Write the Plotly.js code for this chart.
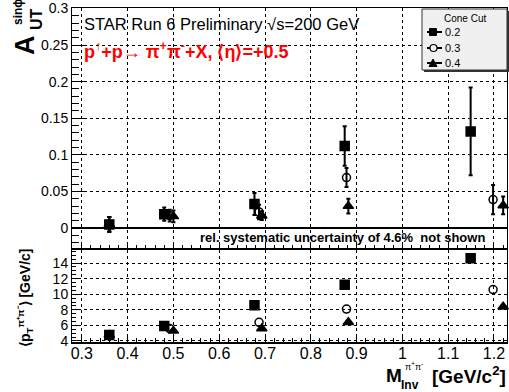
<!DOCTYPE html>
<html><head><meta charset="utf-8">
<script src="https://cdn.plot.ly/plotly-3.0.1.min.js"></script>
<style>html,body{margin:0;padding:0;background:#fff;}#chart{width:509px;height:392px;}</style>
</head><body><div id="chart"></div>
<script>
// ---- data ----
var cones = ["0.2", "0.3", "0.4"];
var mass02 = [0.36, 0.48, 0.677, 0.874, 1.149];
var asym02 = [0.005, 0.019, 0.033, 0.112, 0.132];
var err02  = [0.010, 0.009, 0.015, 0.027, 0.060];
var pt02   = [4.77, 5.92, 8.6, 11.2, 14.6];

var mass03 = [0.36, 0.492, 0.687, 0.878, 1.198];
var asym03 = [0.005, 0.017, 0.022, 0.069, 0.039];
var err03  = [0.010, 0.008, 0.010, 0.013, 0.020];
var pt03   = [4.77, 5.6, 6.4, 8.1, 10.6];

var mass04 = [0.36, 0.500, 0.693, 0.882, 1.220];
var asym04 = [0.005, 0.016, 0.017, 0.030, 0.031];
var err04  = [0.010, 0.008, 0.006, 0.010, 0.012];
var pt04   = [4.77, 5.3, 5.6, 6.4, 8.4];

var xTickVals = [0.3,0.4,0.5,0.6,0.7,0.8,0.9,1,1.1,1.2];
var xTickText = ["0.3","0.4","0.5","0.6","0.7","0.8","0.9","1","1.1","1.2"];

// ---- geometry ----
var W = 509, H = 392, L = 72, R = 507, T = 8, B = 342;
function px(x, y) { return {x: (x - L) / (R - L), y: (B - y) / (B - T)}; }
var FONT = "Liberation Sans, Arial, sans-serif";

var series = [
  {name: cones[0], m: mass02, a: asym02, e: err02, p: pt02, sym: "square", fill: "black", size: 9},
  {name: cones[1], m: mass03, a: asym03, e: err03, p: pt03, sym: "circle-open", fill: "black", size: 8},
  {name: cones[2], m: mass04, a: asym04, e: err04, p: pt04, sym: "triangle-up", fill: "black", size: 9}
];

var traces = [];
series.forEach(function (s) {
  traces.push({
    x: s.m, y: s.a, xaxis: "x2", yaxis: "y2", type: "scatter", mode: "markers",
    name: s.name, showlegend: false, cliponaxis: false,
    marker: {symbol: s.sym, size: s.size, color: s.fill, line: {color: "black", width: 1.5}},
    error_y: {type: "data", array: s.e, visible: true, color: "black", thickness: 2, width: 2}
  });
  traces.push({
    x: s.m, y: s.p, xaxis: "x", yaxis: "y", type: "scatter", mode: "markers",
    name: s.name, showlegend: false, cliponaxis: false,
    marker: {symbol: s.sym, size: s.size, color: s.fill, line: {color: "black", width: 1.5}}
  });
});

var gridStyle = {showgrid: true, gridcolor: "black", gridwidth: 1, griddash: "dot"};

var ann = [];
function addAnn(text, xp, yp, opts) {
  var p = px(xp, yp);
  var a = {text: text, x: p.x, y: p.y, xref: "paper", yref: "paper", showarrow: false,
           xanchor: "center", yanchor: "middle", font: {family: FONT, size: 14, color: "black"}};
  for (var k in opts) a[k] = opts[k];
  ann.push(a);
}
addAnn("STAR Run 6 Preliminary √s=200 GeV", 82, 24, {xanchor: "left", font: {family: FONT, size: 16.5, color: "black"}});
addAnn("<b>p<sup>↑</sup>+p→ π<sup>+</sup>π<sup>-</sup>+X, ⟨η⟩=+0.5</b>", 82, 50, {xanchor: "left", font: {family: FONT, size: 18, color: "#ff0000"}});
addAnn("<b>rel. systematic uncertainty of 4.6%  not shown</b>", 487, 237, {xanchor: "right", font: {family: FONT, size: 13, color: "black"}});
// y title top (A_UT^sinphi)
addAnn("<b>A</b>", 25, 45, {textangle: -90, font: {family: FONT, size: 27, color: "black"}});
addAnn("<b>UT</b>", 37, 19, {textangle: -90, font: {family: FONT, size: 16, color: "black"}});
addAnn("<b>sinϕ</b>", 18, 12, {textangle: -90, font: {family: FONT, size: 12, color: "black"}});
// y title bottom
addAnn("<b>⟨p<sub>T</sub><sup>π⁺π⁻</sup>⟩ [GeV/c]</b>", 25, 298, {textangle: -90, font: {family: FONT, size: 14, color: "black"}});
// x title
addAnn("<b>M</b>", 394, 375, {font: {family: FONT, size: 19, color: "black"}});
addAnn("<b>Inv</b>", 410, 385, {font: {family: FONT, size: 12, color: "black"}});
addAnn("π<sup>+</sup>π<sup>-</sup>", 414, 366, {font: {family: FONT, size: 9, color: "black"}});
addAnn("<b>[GeV/c<sup>2</sup>]</b>", 508, 375, {xanchor: "right", font: {family: FONT, size: 19, color: "black"}});

// ---- custom legend box (ROOT style) ----
var shapes = [];
function rectPx(x0, y0, x1, y1, opts) {
  var a = px(x0, y0), b = px(x1, y1);
  var s = {type: "rect", xref: "paper", yref: "paper", x0: a.x, y0: a.y, x1: b.x, y1: b.y, layer: "above"};
  for (var k in opts) s[k] = opts[k];
  shapes.push(s);
}
rectPx(424, 11, 509, 72, {fillcolor: "#333", line: {width: 0}});
rectPx(422, 9, 507, 70, {fillcolor: "#f0f0f0", line: {color: "#333", width: 1}});
addAnn("Cone Cut", 465, 18, {font: {family: FONT, size: 10, color: "black"}});
var legY = [32, 48, 63];
series.forEach(function (s, i) {
  var y = legY[i];
  var a = px(427, y), b = px(442, y);
  shapes.push({type: "line", xref: "paper", yref: "paper", x0: a.x, y0: a.y, x1: b.x, y1: b.y,
               line: {color: "black", width: 2}, layer: "above"});
  if (s.sym === "square") {
    rectPx(429.5, y - 3.5, 436.5, y + 3.5, {fillcolor: "black", line: {color: "black", width: 1}});
  } else if (s.sym === "circle-open") {
    var c0 = px(430, y - 3.5), c1 = px(437, y + 3.5);
    shapes.push({type: "circle", xref: "paper", yref: "paper", x0: c0.x, y0: c0.y, x1: c1.x, y1: c1.y,
                 fillcolor: "#f0f0f0", line: {color: "black", width: 1.2}, layer: "above"});
  } else {
    var p1 = px(429, y + 3.5), p2 = px(437, y + 3.5), p3 = px(433, y - 4);
    shapes.push({type: "path", xref: "paper", yref: "paper",
                 path: "M" + p1.x + "," + p1.y + " L" + p2.x + "," + p2.y + " L" + p3.x + "," + p3.y + " Z",
                 fillcolor: "black", line: {color: "black", width: 1}, layer: "above"});
  }
  addAnn(s.name, 443, y, {xanchor: "left", font: {family: FONT, size: 11, color: "black"}});
});

var layout = {
  width: W, height: H,
  margin: {l: L, r: W - R, t: T, b: H - B, pad: 0},
  paper_bgcolor: "white", plot_bgcolor: "white",
  font: {family: FONT, color: "black"},
  showlegend: false,
  xaxis: Object.assign({
    domain: [0, 1], anchor: "y", range: [0.2786, 1.2284],
    tickmode: "array", tickvals: xTickVals, ticktext: xTickText,
    ticks: "inside", ticklen: 7, tickwidth: 1, tickcolor: "black",
    minor: {dtick: 0.02, ticks: "inside", ticklen: 4, tickcolor: "black", showgrid: false},
    showline: true, linecolor: "black", linewidth: 2, mirror: true,
    zeroline: false, tickfont: {family: FONT, size: 16, color: "black"},
    ticklabelstandoff: -4
  }, gridStyle),
  yaxis: Object.assign({
    domain: [0, 0.2754], anchor: "x", range: [3.87, 15.67],
    tickvals: [4, 6, 8, 10, 12, 14],
    ticks: "inside", ticklen: 8, tickwidth: 1, tickcolor: "black",
    minor: {dtick: 0.5, ticks: "inside", ticklen: 4, tickcolor: "black", showgrid: false},
    showline: true, linecolor: "black", linewidth: 1, mirror: true,
    zeroline: false, tickfont: {family: FONT, size: 14, color: "black"}
  }, gridStyle),
  xaxis2: Object.assign({
    domain: [0, 1], anchor: "y2", matches: "x", range: [0.2786, 1.2284],
    tickmode: "array", tickvals: xTickVals, showticklabels: false,
    ticks: "inside", ticklen: 7, tickwidth: 1, tickcolor: "black",
    minor: {dtick: 0.02, ticks: "inside", ticklen: 4, tickcolor: "black", showgrid: false},
    showline: true, linecolor: "black", linewidth: 1, mirror: true, zeroline: false
  }, gridStyle),
  yaxis2: Object.assign({
    domain: [0.2784, 1], anchor: "x2", range: [-0.0286, 0.3006],
    tickvals: [0, 0.05, 0.1, 0.15, 0.2, 0.25, 0.3],
    ticktext: ["0", "0.05", "0.1", "0.15", "0.2", "0.25", "0.3"],
    ticks: "inside", ticklen: 14, tickwidth: 1, tickcolor: "black",
    minor: {dtick: 0.01, ticks: "inside", ticklen: 7, tickcolor: "black", showgrid: false},
    showline: true, linecolor: "black", linewidth: 1, mirror: true,
    zeroline: true, zerolinecolor: "black", zerolinewidth: 2.5,
    tickfont: {family: FONT, size: 14, color: "black"}
  }, gridStyle),
  shapes: shapes,
  annotations: ann
};

Plotly.newPlot("chart", traces, layout, {displayModeBar: false, staticPlot: true});
</script>
</body></html>
